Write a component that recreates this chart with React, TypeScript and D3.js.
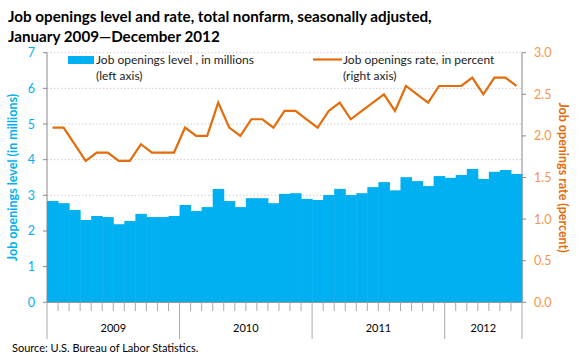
import React from "react";
import * as d3 from "d3";

const years = ["2009", "2010", "2011", "2012"];
const monthsPerYear = [12, 12, 12, 7];
const levels = [
  2.84, 2.78, 2.59, 2.31, 2.42, 2.39, 2.19, 2.28, 2.48, 2.39, 2.39, 2.42,
  2.73, 2.56, 2.67, 3.18, 2.84, 2.67, 2.92, 2.92, 2.78, 3.04, 3.06, 2.9,
  2.87, 3.01, 3.18, 3.01, 3.06, 3.23, 3.37, 3.14, 3.51, 3.4, 3.26, 3.54,
  3.49, 3.57, 3.74, 3.46, 3.66, 3.71, 3.6,
];
const rates = [
  2.1, 2.1, 1.9, 1.7, 1.8, 1.8, 1.7, 1.7, 1.9, 1.8, 1.8, 1.8,
  2.1, 2.0, 2.0, 2.4, 2.1, 2.0, 2.2, 2.2, 2.1, 2.3, 2.3, 2.2,
  2.1, 2.3, 2.4, 2.2, 2.3, 2.4, 2.5, 2.3, 2.6, 2.5, 2.4, 2.6,
  2.6, 2.6, 2.7, 2.5, 2.7, 2.7, 2.6,
];
const leftTicks = [0, 1, 2, 3, 4, 5, 6, 7];
const rightTicks = [0, 0.5, 1.0, 1.5, 2.0, 2.5, 3.0];

const FONT = "Lato, 'Open Sans', sans-serif";
const BLUE = "#00B0F0";
const ORANGE = "#E46C0A";
const ORANGE_LT = "#F79646";

export default function App() {
  const W = 580, H = 360;
  const x0 = 47, x1 = 522, yTop = 52.7, yBot = 302.3;
  const n = levels.length;
  const x = d3.scaleBand<number>().domain(d3.range(n)).range([x0, x1]).paddingInner(0).paddingOuter(0);
  const yL = d3.scaleLinear().domain([0, 7]).range([yBot, yTop]);
  const yR = d3.scaleLinear().domain([0, 3]).range([yBot, yTop]);
  const bw = x.bandwidth();
  const line = d3.line<number>()
    .x((_, i) => (x(i) as number) + bw / 2)
    .y((d) => yR(d));

  const bounds: number[] = [0];
  monthsPerYear.forEach((m) => bounds.push(bounds[bounds.length - 1] + m));
  const posOf = (k: number) => (k >= n ? x1 : (x(k) as number));

  return (
    <svg width={W} height={H} style={{ position: "absolute", left: 0, top: 0, background: "#fff" }}>
      <text x={8} y={22} fontFamily={FONT} fontWeight="bold" fontSize={15.2} fill="#000">
        Job openings level and rate, total nonfarm, seasonally adjusted,
      </text>
      <text x={8} y={42} fontFamily={FONT} fontWeight="bold" fontSize={15.2} fill="#000">
        January 2009—December 2012
      </text>

      {leftTicks.filter((t) => t > 0).map((t) => (
        <line key={"g" + t} x1={x0} x2={x1} y1={yL(t)} y2={yL(t)} stroke="#d0d0d0" strokeDasharray="1.5,2" strokeWidth={1} />
      ))}

      {levels.map((v, i) => (
        <rect key={"b" + i} x={x(i) as number} y={yL(v)} width={bw + 0.5} height={yBot - yL(v)} fill={BLUE} />
      ))}

      <path d={line(rates) as string} fill="none" stroke={ORANGE} strokeWidth={2.2} strokeLinejoin="miter" />

      <line x1={x0} x2={x0} y1={yTop} y2={yBot} stroke="#888" />
      <line x1={x1} x2={x1} y1={yTop} y2={yBot} stroke="#888" />
      <line x1={x0} x2={x1} y1={yBot} y2={yBot} stroke="#888" />
      {leftTicks.map((t) => (
        <g key={"lt" + t}>
          <line x1={x0 - 4} x2={x0} y1={yL(t)} y2={yL(t)} stroke="#888" />
          <text x={x0 - 12} y={yL(t) + 4.5} textAnchor="end" fontFamily={FONT} fontSize={12.5} fill={BLUE}>{t}</text>
        </g>
      ))}
      {rightTicks.map((t) => (
        <g key={"rt" + t}>
          <line x1={x1} x2={x1 + 4} y1={yR(t)} y2={yR(t)} stroke="#888" />
          <text x={x1 + 12} y={yR(t) + 4.5} textAnchor="start" fontFamily={FONT} fontSize={12.5} fill={ORANGE_LT}>{t.toFixed(1)}</text>
        </g>
      ))}

      {d3.range(n + 1).map((k) => {
        const isYear = bounds.includes(k);
        return (
          <line key={"xt" + k} x1={posOf(k)} x2={posOf(k)} y1={yBot} y2={isYear ? 339 : 311} stroke="#aaa" />
        );
      })}
      {years.map((yv, j) => (
        <text key={yv} x={(posOf(bounds[j]) + posOf(bounds[j + 1])) / 2} y={332} textAnchor="middle" fontFamily={FONT} fontSize={11} fill="#000">{yv}</text>
      ))}

      <text transform={`translate(17,${(yTop + yBot) / 2}) rotate(-90)`} textAnchor="middle" fontFamily={FONT} fontWeight="bold" fontSize={12.5} fill={BLUE}>
        Job openings level (in millions)
      </text>
      <text transform={`translate(559,${(yTop + yBot) / 2}) rotate(90)`} textAnchor="middle" fontFamily={FONT} fontWeight="bold" fontSize={12.5} fill={ORANGE}>
        Job openings rate (percent)
      </text>

      <rect x={68} y={56} width={26} height={8} fill={BLUE} />
      <text x={96} y={64} fontFamily={FONT} fontSize={12} fill="#222">Job openings level , in millions</text>
      <text x={96} y={80} fontFamily={FONT} fontSize={12} fill="#222">(left axis)</text>
      <line x1={313} x2={342} y1={59.5} y2={59.5} stroke={ORANGE} strokeWidth={2.2} />
      <text x={343} y={64} fontFamily={FONT} fontSize={12} fill="#222">Job openings rate, in percent</text>
      <text x={343} y={80} fontFamily={FONT} fontSize={12} fill="#222">(right axis)</text>

      <text x={12} y={352} fontFamily={FONT} fontSize={11} fill="#000">Source: U.S. Bureau of Labor Statistics.</text>
    </svg>
  );
}
